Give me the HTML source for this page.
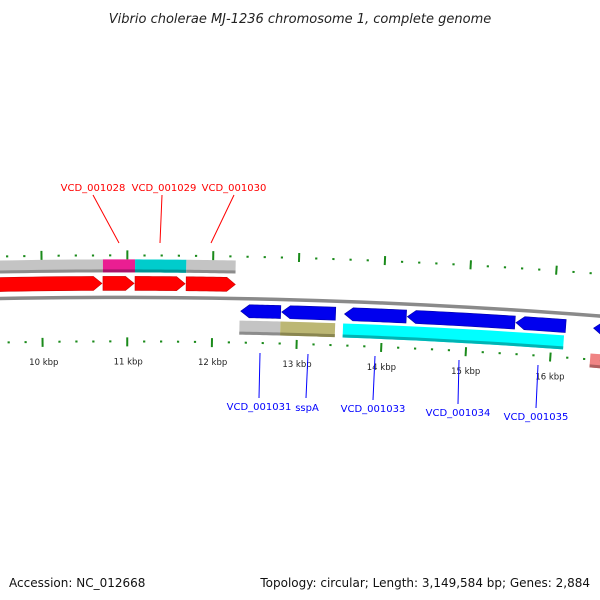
<!DOCTYPE html>
<html><head><meta charset="utf-8"><style>
html,body{margin:0;padding:0;background:#fff;}
svg{display:block;font-family:"DejaVu Sans","Liberation Sans",sans-serif;}
</style></head><body>
<svg id="map" width="600" height="600" viewBox="0 0 600 600" xmlns="http://www.w3.org/2000/svg">
<text x="300" y="23" text-anchor="middle" font-size="13" font-style="italic" fill="#222">Vibrio cholerae MJ-1236 chromosome 1, complete genome</text>
<g id="layer"></g>
<text x="9" y="587" font-size="12" fill="#111">Accession: NC_012668</text>
<text x="590" y="587" font-size="12" text-anchor="end" fill="#111">Topology: circular; Length: 3,149,584 bp; Genes: 2,884</text>
</svg>
<script>
// data
const fwdStarts = [8900, 10715, 11090, 11688];
const fwdEnds   = [10703, 11079, 11676, 12263];
const upperBandStarts = [8900, 10715, 11090, 11688];
const upperBandEnds   = [10715, 11090, 11688, 12263];
const upperBandKinds  = ['gray','magenta','teal','gray'];
const revStarts = [12333, 12814, 13552, 14291, 15569, 16483];
const revEnds   = [12802, 13447, 14279, 15557, 16155, 17714];
const lowerBandStarts = [12321, 12802, 13540, 16470];
const lowerBandEnds   = [12802, 13447, 16143, 17700];
const lowerBandKinds  = ['gray','olive','cyan','pink'];
const tickLabels = ['10 kbp','11 kbp','12 kbp','13 kbp','14 kbp','15 kbp','16 kbp'];
const tickLabelBp = [10000, 11000, 12000, 13000, 14000, 15000, 16000];
const redLabels = ['VCD_001028','VCD_001029','VCD_001030'];
const blueLabels = ['VCD_001031','sspA','VCD_001033','VCD_001034','VCD_001035'];

// geometry
const R = 6207, CX = 119, CY = 297.4 + R;
const PX0 = 42, PXPERBP = 0.0853;
function ang(bp){ return ((PX0 + (bp-10000)*PXPERBP) - CX)/R; }
function pt(bp, off){ const a=ang(bp), r=R+off; return [CX + r*Math.sin(a), CY - r*Math.cos(a)]; }
const NS='http://www.w3.org/2000/svg';
const layer=document.getElementById('layer');
function mk(tag, attrs){ const e=document.createElementNS(NS,tag); for(const k in attrs) e.setAttribute(k,attrs[k]); layer.appendChild(e); return e; }
function arcPts(s,e,off,n){ const a=[]; for(let i=0;i<=n;i++){ a.push(pt(s+(e-s)*i/n,off)); } return a; }
function polyStr(p){ return p.map(q=>q[0].toFixed(2)+','+q[1].toFixed(2)).join(' '); }
const HEAD = 100; // bp length of arrow head
function bandShape(s,e,o1,o2){ return arcPts(s,e,o1,12).concat(arcPts(e,s,o2,12)); }
function arrowShape(s,e,o1,o2,dir){
  const mid=(o1+o2)/2;
  if(dir>0){ const h=e-HEAD; return arcPts(s,h,o1,12).concat([pt(e,mid)]).concat(arcPts(h,s,o2,12)); }
  const h=s+HEAD; return [pt(s,mid)].concat(arcPts(h,e,o1,12)).concat(arcPts(e,h,o2,12));
}
const bandColors={gray:['#c4c4c4','#8c8c8c'],magenta:['#ea1e92','#a8146a'],teal:['#00cccc','#009494'],cyan:['#00ffff','#00b4b4'],olive:['#bcb774','#8a8650'],pink:['#f08484','#b06060']};

// backbone
const bb=mk('polyline',{points:polyStr(arcPts(4000,19000,0,60)),fill:'none',stroke:'#8a8a8a','stroke-width':3.5});



// upper band
for(let i=0;i<upperBandStarts.length;i++){
  const c=bandColors[upperBandKinds[i]];
  const p=mk('polygon',{points:polyStr(bandShape(upperBandStarts[i],upperBandEnds[i],38,25)),fill:c[0]});
  
  
  const s=mk('polygon',{points:polyStr(bandShape(upperBandStarts[i],upperBandEnds[i],28,25)),fill:c[1]});
  
  
}
// forward genes
for(let i=0;i<fwdStarts.length;i++){
  const p=mk('polygon',{points:polyStr(arrowShape(fwdStarts[i],fwdEnds[i],21,7,1)),fill:'#ff0000',stroke:'#cc0000','stroke-width':0.6});
  
  
}
// reverse genes
for(let i=0;i<revStarts.length;i++){
  const p=mk('polygon',{points:polyStr(arrowShape(revStarts[i],revEnds[i],-6,-19,-1)),fill:'#0000ee',stroke:'#0000a8','stroke-width':0.6});
  
  
}
// lower band
for(let i=0;i<lowerBandStarts.length;i++){
  const c=bandColors[lowerBandKinds[i]];
  const o1 = lowerBandKinds[i]==='pink' ? -38 : -22, o2 = o1-14;
  const p=mk('polygon',{points:polyStr(bandShape(lowerBandStarts[i],lowerBandEnds[i],o1,o2)),fill:c[0]});
  
  
  const s=mk('polygon',{points:polyStr(bandShape(lowerBandStarts[i],lowerBandEnds[i],o2+3,o2)),fill:c[1]});
  
  
}
// ticks
for(let bp=4000; bp<=19000; bp+=200){
  const major = bp%1000===0;
  [[42,1],[-44,-1]].forEach(([o,sg])=>{
    const a= major? pt(bp,o-4*sg):pt(bp,o-1*sg), b= major? pt(bp,o+5*sg):pt(bp,o+1*sg);
    const l=mk('line',{x1:a[0],y1:a[1],x2:b[0],y2:b[1],stroke:'#1a8a1a','stroke-width':major?2:2.2});
    
    
  });
}
for(let i=0;i<tickLabels.length;i++){
  const p=pt(tickLabelBp[i],-64);
  const t=mk('text',{x:p[0]+1,y:p[1]+3,'text-anchor':'middle','font-size':8.5,fill:'#222'});
  t.textContent=tickLabels[i];
  
  
}
// gene labels
const redPos=[[93,188,93,195,119,243],[164,188,162,195,160,243],[234,188,234,195,211,243]];
redLabels.forEach((s,i)=>{
  const q=redPos[i];
  const l=mk('line',{x1:q[2],y1:q[3],x2:q[4],y2:q[5],stroke:'#ff0000','stroke-width':1});
  
  
  const t=mk('text',{x:q[0],y:q[1]+3,'text-anchor':'middle','font-size':10,fill:'#ff0000'});
  t.textContent=s;
  
  
});
const bluePos=[[259,407,260,353,259,398],[307,408,308,354,306,398],[373,409,375,356,373,400],[458,413,459,360,458,404],[536,417,538,365,536,408]];
blueLabels.forEach((s,i)=>{
  const q=bluePos[i];
  const l=mk('line',{x1:q[2],y1:q[3],x2:q[4],y2:q[5],stroke:'#0000ff','stroke-width':1});
  
  
  const t=mk('text',{x:q[0],y:q[1]+3,'text-anchor':'middle','font-size':10,fill:'#0000ff'});
  t.textContent=s;
  
  
});
</script>
</body></html>
